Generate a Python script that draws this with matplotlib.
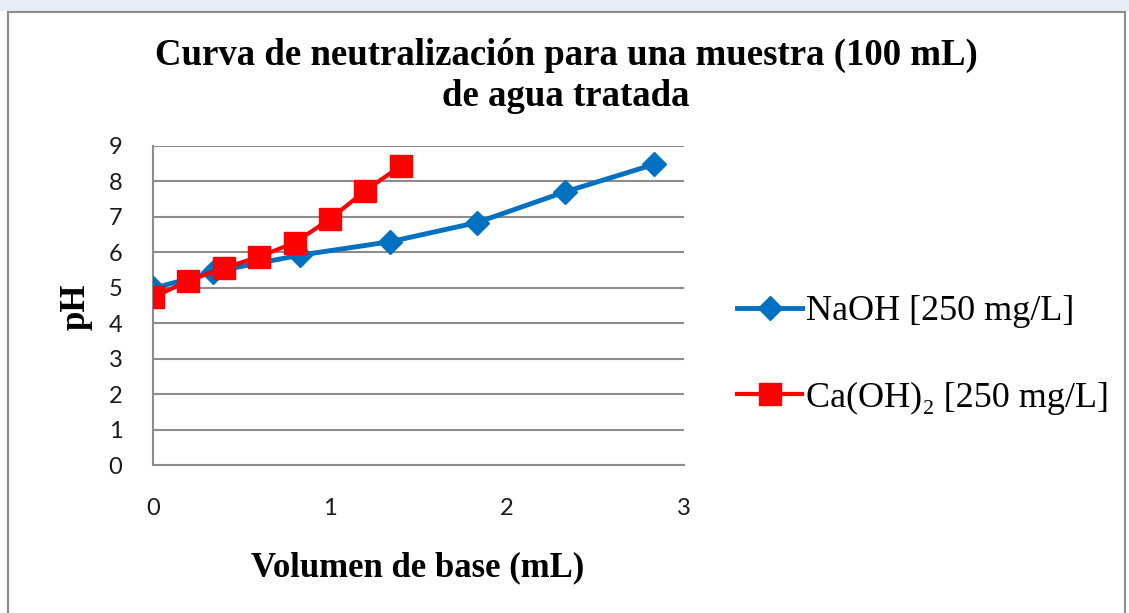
import matplotlib.pyplot as plt
from matplotlib.patches import Rectangle

# datos
naoh_vol = [0, 0.34, 0.83, 1.34, 1.83, 2.33, 2.83]
naoh_ph = [4.98, 5.45, 5.92, 6.30, 6.84, 7.71, 8.48]

caoh_vol = [0, 0.2, 0.4, 0.6, 0.8, 1.0, 1.2, 1.4]
caoh_ph = [4.73, 5.20, 5.55, 5.88, 6.27, 6.94, 7.74, 8.44]

x_ticks = [0, 1, 2, 3]
y_ticks = list(range(0, 10))

title = "Curva de neutralización para una muestra (100 mL)\nde agua tratada"
x_label = "Volumen de base (mL)"
y_label = "pH"
label_naoh = "NaOH [250 mg/L]"
label_caoh = "Ca(OH)₂ [250 mg/L]"

serif = ['Liberation Serif', 'DejaVu Serif']
sans = ['Lato', 'DejaVu Sans']

W, H = 1129, 613
fig = plt.figure(figsize=(W / 100, H / 100), dpi=100)

# fondo de hoja de calculo y marco del grafico
fig.patches.append(Rectangle((0, 1 - 11 / H), 1, 11 / H, transform=fig.transFigure,
                             facecolor='#e8edf5', edgecolor='none', zorder=0))
fig.patches.append(Rectangle((8 / W, -0.05), (1125 - 8) / W, 1.05 - 12 / H,
                             transform=fig.transFigure, facecolor='white',
                             edgecolor='#8c8c8c', linewidth=1.5, zorder=1))

ax = fig.add_axes([153 / W, 1 - 465 / H, (684 - 153) / W, (465 - 146) / H])
ax.set_zorder(2)
ax.patch.set_alpha(0)

ax.plot(naoh_vol, naoh_ph, color='#0070c0', linewidth=3.5, marker='D',
        markersize=12, label=label_naoh, zorder=3)
ax.plot(caoh_vol, caoh_ph, color='#ff0000', linewidth=3, marker='s',
        markersize=16, label=label_caoh, zorder=4)

ax.set_xlim(0, 3)
ax.set_ylim(0, 9)
ax.set_xticks(x_ticks)
ax.set_yticks(y_ticks)
ax.grid(True, axis='y', color='#8c8c8c', linewidth=1.5)
ax.set_axisbelow(True)
for s in ['top', 'right']:
    ax.spines[s].set_visible(False)
for s in ['left', 'bottom']:
    ax.spines[s].set_color('#8c8c8c')
    ax.spines[s].set_linewidth(1.5)
ax.tick_params(length=0, labelsize=17, colors='#1a1a1a')
ax.tick_params(axis='x', pad=24)
ax.tick_params(axis='y', pad=22)
for lab in ax.get_xticklabels() + ax.get_yticklabels():
    lab.set_family(sans)

fig.text(566 / W, 1 - 76 / H, title, ha='center', va='center', family=serif,
         fontweight='bold', fontsize=26.5, linespacing=1.2)
fig.text(418 / W, 1 - 568 / H, x_label, ha='center', va='center', family=serif,
         fontweight='bold', fontsize=25)
fig.text(76 / W, 1 - 307 / H, y_label, ha='center', va='center', family=serif,
         fontweight='bold', fontsize=25, rotation=90)

leg = ax.legend(loc='center left', bbox_to_anchor=((737 - 153) / 531, (465 - 355) / 319),
                frameon=False, prop={'family': serif, 'size': 26},
                handlelength=1.8, handletextpad=0.1, labelspacing=1.47, borderpad=0,
                borderaxespad=0)

fig.savefig('out.png', dpi=100)
